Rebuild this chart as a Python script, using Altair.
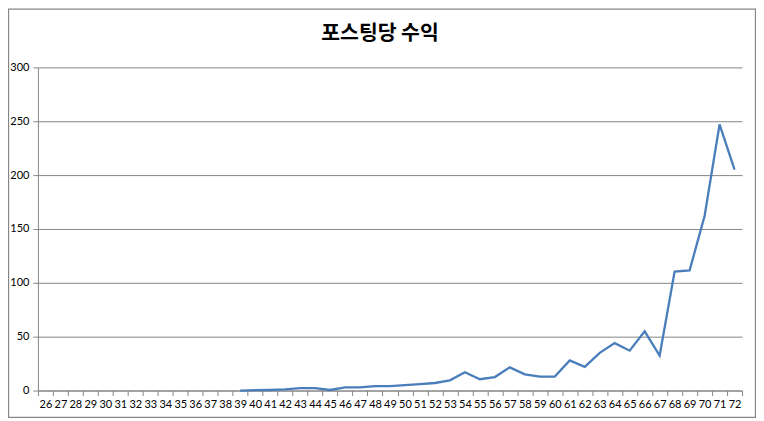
import altair as alt
import pandas as pd

title_text = "포스팅당 수익"
weeks = ["26", "27", "28", "29", "30", "31", "32", "33", "34", "35", "36", "37",
         "38", "39", "40", "41", "42", "43", "44", "45", "46", "47", "48", "49",
         "50", "51", "52", "53", "54", "55", "56", "57", "58", "59", "60", "61",
         "62", "63", "64", "65", "66", "67", "68", "69", "70", "71", "72"]
revenue = [None, None, None, None, None, None, None, None, None, None, None, None,
           None, 0, 0.3, 0.5, 1, 2.2, 2.2, 0.5, 3, 3, 4, 4,
           5, 6, 7, 9.5, 17, 10.5, 12.5, 21.5, 15, 13, 13, 28,
           22, 35, 44, 37, 55, 32.5, 110.5, 111.5, 162, 247, 205]
y_ticks = [0, 50, 100, 150, 200, 250, 300]

df = pd.DataFrame({"week": weeks, "revenue": revenue}).dropna()

W, H = 706, 324
GRAY = "#868686"

frame = alt.Chart(pd.DataFrame({"k": [0]})).mark_rect(
    fill=None, stroke=GRAY, strokeWidth=1.3, clip=False
).encode(
    x=alt.value(-29.5), x2=alt.value(W + 13.5),
    y=alt.value(-58.5), y2=alt.value(H + 27)
)

title = alt.Chart(pd.DataFrame({"t": [title_text]})).mark_text(
    font="Noto Sans CJK KR", fontSize=20.5, fontWeight="bold", color="#000000",
    align="center", baseline="alphabetic", clip=False
).encode(
    text="t:N", x=alt.value(W / 2 - 10), y=alt.value(-27.5)
)

line = alt.Chart(df).mark_line(color="#4a7ebb", strokeWidth=2.3).encode(
    x=alt.X("week:O", sort=weeks, bandPosition=0.5,
            scale=alt.Scale(domain=weeks, type="band", paddingInner=0, paddingOuter=0),
            axis=alt.Axis(title=None, labelAngle=0, tickBand="extent", tickSize=5,
                          tickColor=GRAY, domainColor=GRAY, labelPadding=3,
                          labelFont="Lato", labelFontSize=11, labelColor="#000000",
                          grid=False)),
    y=alt.Y("revenue:Q", scale=alt.Scale(domain=[0, 300], nice=False),
            axis=alt.Axis(title=None, values=y_ticks, tickSize=5, tickColor=GRAY,
                          domainColor=GRAY, gridColor=GRAY, gridWidth=1,
                          labelPadding=4, labelFont="Lato", labelFontSize=11,
                          labelColor="#000000"))
)

chart = alt.layer(frame, title, line).properties(
    width=W, height=H,
    autosize=alt.AutoSizeParams(type="none"),
    padding={"left": 30, "top": 59, "right": 14, "bottom": 28},
    background="white"
).configure_view(stroke=None)

chart.save("out.html", embed_options={"renderer": "svg", "actions": False})
